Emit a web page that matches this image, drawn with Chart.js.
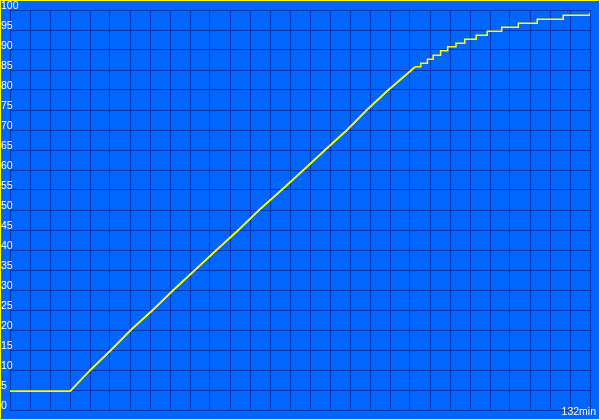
<!DOCTYPE html>
<html>
<head>
<meta charset="utf-8">
<script src="https://cdn.jsdelivr.net/npm/chart.js@4.4.0/dist/chart.umd.min.js"></script>
<style>
  html, body { margin: 0; padding: 0; background: #0066ff; }
  canvas { display: block; }
</style>
</head>
<body>
<canvas id="myChart" width="600" height="420"></canvas>
<script>
// charge level (%) over time (min)
const riseTimes  = [0, 13.7, 18.3, 23.0, 27.5, 32.5, 37.2, 42.1, 47.0, 52.0, 56.7, 61.8, 66.8, 71.7, 76.7, 81.2, 86.1, 91.4, 92.2];
const riseLevels = [4.7, 4.7, 10, 15, 20, 25, 30, 35, 40, 45, 50, 55, 60, 65, 70, 75, 80, 85, 85.8];

// last part is drawn as steps: time where each level starts
const stepTimes  = [92.2, 93.5, 95.0, 96.3, 98.0, 99.6, 101.5, 103.5, 106.1, 108.6, 111.9, 115.7, 120.0, 125.9, 132.0];
const stepLevels = [85.8, 86.7, 87.7, 88.7, 89.8, 90.8, 91.7, 92.7, 93.7, 94.7, 95.7, 96.7, 97.7, 98.7, 99.4];

const xMax = 132
const xLabel = '132min'
const xCells = 29
const yTicks = [0, 5, 10, 15, 20, 25, 30, 35, 40, 45, 50, 55, 60, 65, 70, 75, 80, 85, 90, 95, 100]

let xGrid = []
for (let i = 0; i <= xCells; i++) {
    xGrid.push(xMax * i / xCells)
}

const gridColor = '#0034b0'

// blue background + yellow frame round the whole picture
const frame = {
    id: 'frame',
    beforeDraw(chart) {
        const c = chart.ctx
        c.save()
        c.fillStyle = '#0066ff'
        c.fillRect(0, 0, chart.width, chart.height)
        c.strokeStyle = '#ffff00'
        c.lineWidth = 1
        c.strokeRect(0.5, 0.5, chart.width - 1, chart.height - 1)
        c.restore()
    }
}

const ctx = document.getElementById('myChart');
const data = {
    datasets: [{
        data: riseTimes.map((t, i) => ({ x: t, y: riseLevels[i] })),
        borderColor: '#ffff00',
        borderWidth: 1.8,
        pointRadius: 0,
        fill: false
    }, {
        data: stepTimes.map((t, i) => ({ x: t, y: stepLevels[i] })),
        borderColor: '#ffff00',
        borderWidth: 1.5,
        pointRadius: 0,
        stepped: 'before',
        fill: false
    }]
};
const config = {
    type: 'line',
    data: data,
    plugins: [frame],
    options: {
        responsive: false,
        animation: false,
        layout: { padding: { left: 10, right: 10, top: 10, bottom: 10 } },
        plugins: {
            legend: { display: false },
            tooltip: { enabled: false }
        },
        scales: {
            x: {
                type: 'linear',
                min: 0,
                max: xMax,
                afterBuildTicks: (scale) => {
                    scale.ticks = xGrid.map(v => ({ value: v }))
                },
                afterFit: (scale) => { scale.height = 0 },
                grid: { color: gridColor, lineWidth: 1, drawTicks: false },
                border: { color: gridColor },
                ticks: {
                    autoSkip: false,
                    maxRotation: 0,
                    mirror: true,
                    align: 'end',
                    padding: -8,
                    labelOffset: 6,
                    color: '#ffffff',
                    font: { family: 'Liberation Sans, Arial', size: 10.5 },
                    callback: (v, i) => i === xCells ? xLabel : ''
                }
            },
            y: {
                min: 0,
                max: 100,
                afterBuildTicks: (scale) => {
                    scale.ticks = yTicks.map(v => ({ value: v }))
                },
                afterFit: (scale) => { scale.width = 0 },
                grid: { color: gridColor, lineWidth: 1, drawTicks: false },
                border: { color: gridColor },
                ticks: {
                    mirror: true,
                    padding: -9,
                    labelOffset: -4,
                    color: '#ffffff',
                    font: { family: 'Liberation Sans, Arial', size: 10.5 },
                    callback: (v) => String(v)
                }
            }
        }
    }
};
new Chart(ctx, config);
</script>
</body>
</html>
